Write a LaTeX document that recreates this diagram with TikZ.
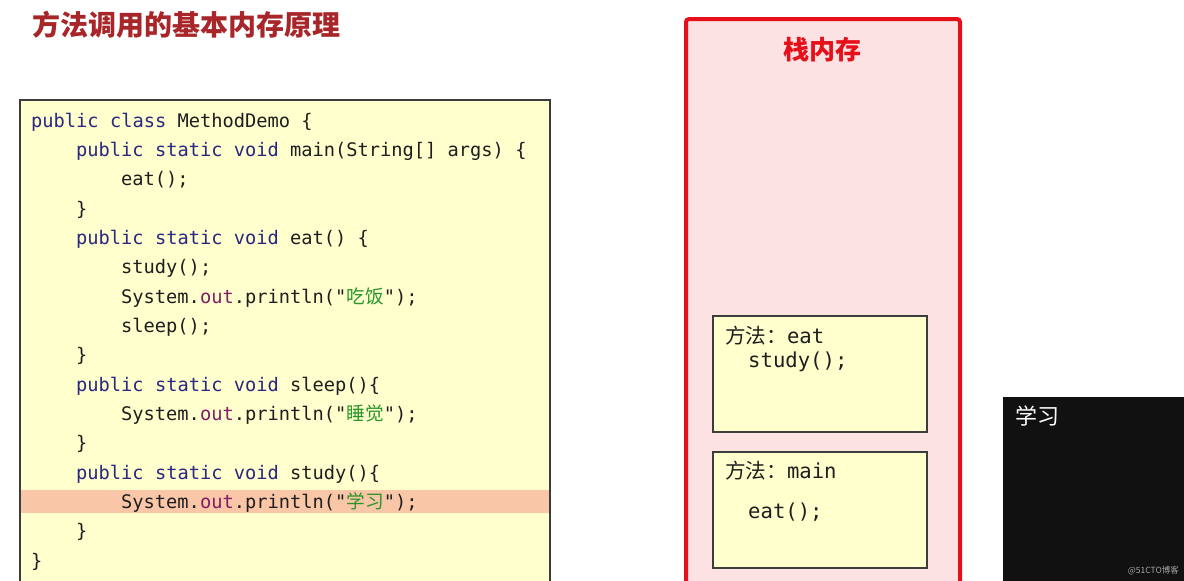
\documentclass[tikz,border=0pt]{standalone}
\usepackage{fontspec}
\setmonofont{DejaVu Sans Mono}
\newfontfamily\cjk{Noto Sans CJK SC}

\definecolor{titlered}{RGB}{168,38,42}
\definecolor{codebg}{RGB}{255,255,206}
\definecolor{codeborder}{RGB}{60,60,60}
\definecolor{codeblack}{RGB}{30,30,30}
\definecolor{kwblue}{RGB}{40,40,130}
\definecolor{fieldpurple}{RGB}{128,30,100}
\definecolor{strgreen}{RGB}{40,150,40}
\definecolor{hlorange}{RGB}{250,198,168}
\definecolor{stackred}{RGB}{230,16,26}
\definecolor{stackpink}{RGB}{252,226,226}
\definecolor{consoleblack}{RGB}{17,17,17}

\newcommand{\kw}[1]{\textcolor{kwblue}{#1}}
\newcommand{\fld}[1]{\textcolor{fieldpurple}{#1}}
\newcommand{\str}[1]{\textcolor{strgreen}{{\cjk #1}}}

\tikzset{
  codeline/.style={anchor=base west, inner sep=0pt, text=codeblack,
    font=\ttfamily\fontsize{18.7}{22}\selectfont},
  frameline/.style={anchor=base west, inner sep=0pt, text=codeblack,
    font=\ttfamily\fontsize{20.6}{24}\selectfont},
  framebox/.style={draw=codeborder, line width=1.2pt, fill=codebg}
}

\begin{document}
\begin{tikzpicture}[x=1pt,y=-1pt]
  \useasboundingbox[fill=white] (0,0) rectangle (1184,581);

  % Title
  \node[anchor=west, inner sep=0pt, text=titlered, font=\cjk\bfseries\fontsize{28}{32}\selectfont]
    (title) at (32,24.5) {方法调用的基本内存原理};

  % Code box
  \fill[codebg] (20,100) rectangle (550,600);
  \fill[hlorange] (21,490) rectangle (549,513);
  \draw[codeborder, line width=1.2pt] (20,600) -- (20,100) -- (550,100) -- (550,600);

  \node[codeline] (l1)  at (31,127)    {\kw{public class} MethodDemo \{};
  \node[codeline] (l2)  at (76,156.3)  {\kw{public static void} main(String[] args) \{};
  \node[codeline] (l3)  at (121,185.7) {eat();};
  \node[codeline] (l4)  at (76,215)    {\}};
  \node[codeline] (l5)  at (76,244.3)  {\kw{public static void} eat() \{};
  \node[codeline] (l6)  at (121,273.7) {study();};
  \node[codeline] (l7)  at (121,303)   {System.\fld{out}.println("\str{吃饭}");};
  \node[codeline] (l8)  at (121,332.3) {sleep();};
  \node[codeline] (l9)  at (76,361.7)  {\}};
  \node[codeline] (l10) at (76,391)    {\kw{public static void} sleep()\{};
  \node[codeline] (l11) at (121,420.3) {System.\fld{out}.println("\str{睡觉}");};
  \node[codeline] (l12) at (76,449.7)  {\}};
  \node[codeline] (l13) at (76,479)    {\kw{public static void} study()\{};
  \node[codeline] (l14) at (121,508.3) {System.\fld{out}.println("\str{学习}");};
  \node[codeline] (l15) at (76,537.7)  {\}};
  \node[codeline] (l16) at (31,567)    {\}};

  % Stack memory
  \draw[stackred, line width=4pt, rounded corners=3pt, fill=stackpink] (686,19) rectangle (960,620);
  \node[text=stackred, font=\cjk\bfseries\fontsize{26}{30}\selectfont] (stacktitle) at (822,50) {栈内存};

  % Frame: eat
  \draw[framebox] (713,316) rectangle (927,432);
  \node[frameline] (eathead) at (725,343) {{\cjk 方法：}eat};
  \node[frameline] (eatcall) at (748,367) {study();};

  % Frame: main
  \draw[framebox] (713,452) rectangle (927,568);
  \node[frameline] (mainhead) at (725,478) {{\cjk 方法：}main};
  \node[frameline] (maincall) at (748,518) {eat();};

  % Console
  \fill[consoleblack] (1003,397) rectangle (1190,590);
  \node[anchor=west, inner sep=0pt, text=white, font=\cjk\fontsize{22}{26}\selectfont]
    (output) at (1015,416) {学习};
  \node[anchor=east, inner sep=0pt, text=gray!70, font=\cjk\fontsize{8.5}{10}\selectfont]
    (mark) at (1179,571) {@51CTO博客};
\end{tikzpicture}
\end{document}
